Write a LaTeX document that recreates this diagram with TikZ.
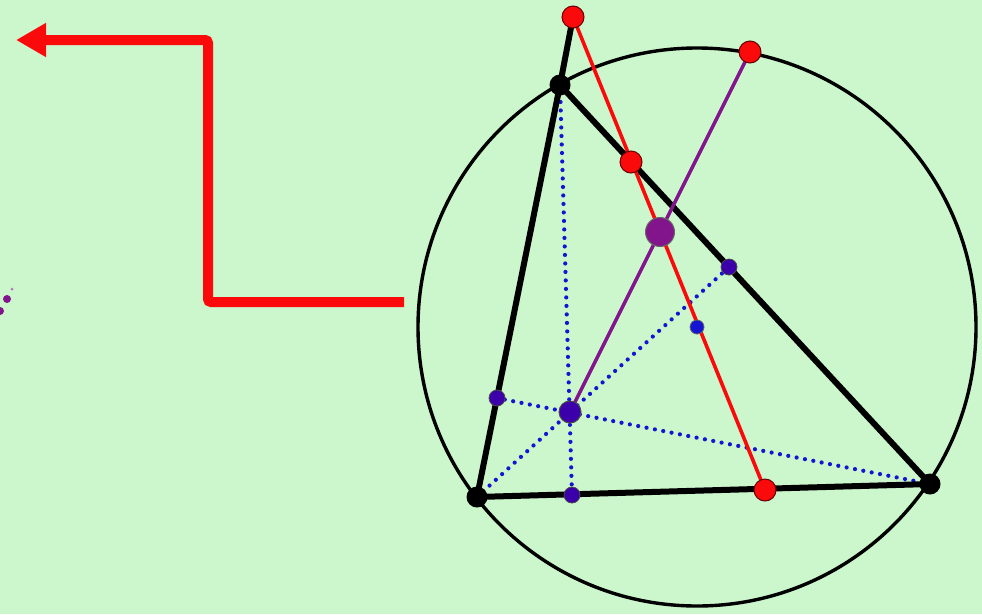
\documentclass[tikz,border=0pt]{standalone}
\usetikzlibrary{arrows.meta}
\definecolor{bg}{RGB}{204,246,204}
\definecolor{redc}{RGB}{250,10,10}
\definecolor{purp}{RGB}{130,20,140}
\definecolor{indigo}{RGB}{60,0,170}
\definecolor{dotblue}{RGB}{20,20,210}
\tikzset{
  tri/.style={line width=6pt,black,line cap=round,line join=round},
  circ/.style={line width=3.4pt,black},
  redline/.style={line width=3.6pt,redc},
  purline/.style={line width=3.4pt,purp},
  dotline/.style={line width=4.2pt,dotblue,dash pattern=on 0pt off 8.5pt,line cap=round},
  vert/.style={circle,fill=black,minimum size=21pt,inner sep=0pt},
  foot/.style={circle,fill=indigo,draw=black!70,line width=0.8pt,minimum size=16pt,inner sep=0pt},
  orth/.style={circle,fill=indigo,draw=black!70,line width=1pt,minimum size=22pt,inner sep=0pt},
  mid/.style={circle,fill=purp,draw=black!60,line width=1pt,minimum size=29pt,inner sep=0pt},
  reddot/.style={circle,fill=redc,draw=black!60!red,line width=1pt,minimum size=22pt,inner sep=0pt},
  cent/.style={circle,fill=dotblue,draw=black!60,line width=0.8pt,minimum size=14pt,inner sep=0pt},
  bigarrow/.style={line width=10pt,redc,-{Triangle[length=30pt,width=32pt]}}
}
\begin{document}
\begin{tikzpicture}[x=1pt,y=-1pt]
\fill[bg] (0,0) rectangle (982,614);
\useasboundingbox (0,0) rectangle (982,614);
% coordinates
\coordinate (A) at (560,85);
\coordinate (B) at (477,497);
\coordinate (C) at (930,484);
\coordinate (O) at (697,327);
\coordinate (H) at (570,412);
\coordinate (Da) at (572,495);
\coordinate (Db) at (729,267);
\coordinate (Dc) at (497,398);
\coordinate (P) at (573,17);
\coordinate (Q) at (631,162);
\coordinate (R) at (765,490);
\coordinate (S) at (750,52);
\coordinate (M) at (660,232);
\coordinate (a0) at (404,302);
\coordinate (a1) at (208,302);
\coordinate (a2) at (208,40);
\coordinate (a3) at (16,40);
% circumcircle
\draw[circ] (O) circle[radius=279];
% altitudes
\draw[dotline] (A) -- (Da);
\draw[dotline] (B) -- (Db);
\draw[dotline] (C) -- (Dc);
% triangle with side BA extended
\draw[tri] (P) -- (A) -- (B) -- (C) -- (A);
% red and purple lines
\draw[redline] (P) -- (R);
\draw[purline] (H) -- (S);
% arrow
\draw[bigarrow,rounded corners=3pt] (a0) -- (a1) -- (a2) -- (a3);
% dots
\node[vert] (nA) at (A) {};
\node[vert] (nB) at (B) {};
\node[vert] (nC) at (C) {};
\node[foot] (nDa) at (Da) {};
\node[foot] (nDb) at (Db) {};
\node[foot] (nDc) at (Dc) {};
\node[orth] (nH) at (H) {};
\node[cent] (nO) at (O) {};
\node[mid] (nM) at (M) {};
\node[reddot] (nP) at (P) {};
\node[reddot] (nQ) at (Q) {};
\node[reddot] (nR) at (R) {};
\node[reddot] (nS) at (S) {};
% left edge fragments
\fill[purp] (7,299) circle (4);
\fill[purp] (0,311) circle (4);
\fill[purp!60] (12,289) circle (1.5);
\end{tikzpicture}
\end{document}
